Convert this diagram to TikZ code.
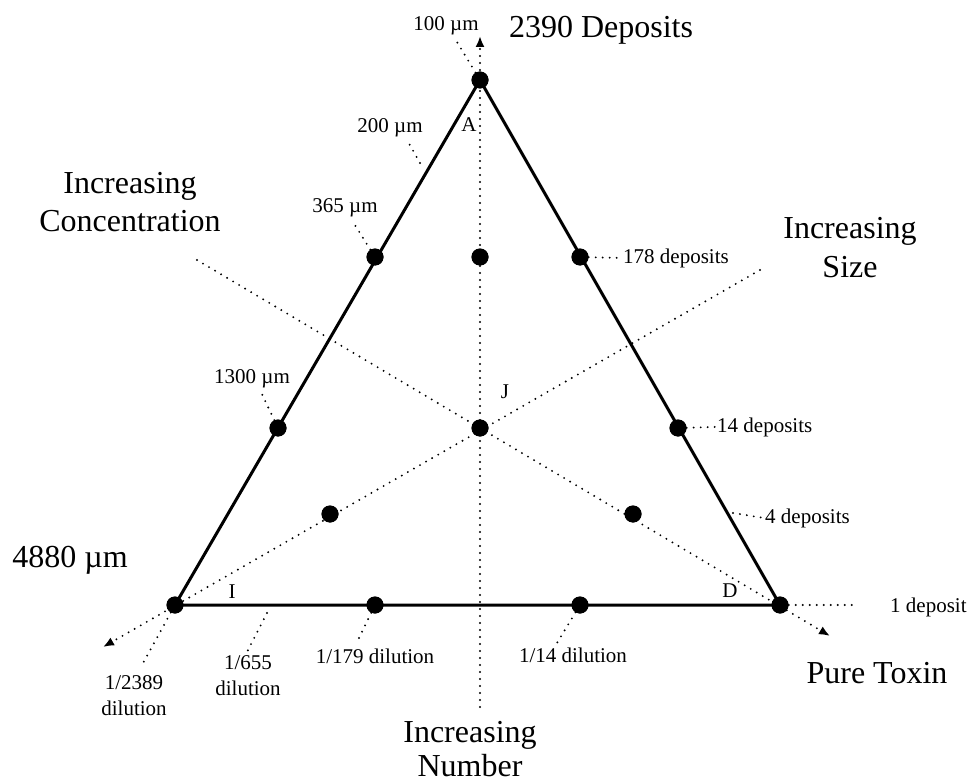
\documentclass[tikz,border=0pt]{standalone}
\usepackage{fontspec}
\setmainfont{Liberation Serif}
\usetikzlibrary{arrows.meta,positioning}
\tikzset{
    % Define standard styles
    edge/.style={
        line width=3pt, line join=round
    },
    spot/.style={
        circle, fill=black, inner sep=0pt, minimum size=17pt
    },
    guide/.style={
        line width=2.1pt, line cap=round, dash pattern=on 0pt off 7pt
    },
    tip/.style={
        -{Latex[length=11pt,width=9pt]}
    },
    biglabel/.style={
        font=\fontsize{32}{39}\selectfont, align=center, inner sep=0pt
    },
    smalllabel/.style={
        font=\fontsize{21}{26}\selectfont, align=center, inner sep=1pt
    }
}

\begin{document}
\begin{tikzpicture}[x=1pt,y=-1pt]

% Canvas
\useasboundingbox (0,0) rectangle (970,781);

% Corner and edge points
\node[spot] (pA) at (480,80) {};
\node[spot] (pI) at (175,605) {};
\node[spot] (pD) at (780,605) {};
\node[spot] (pL1) at (375,257) {};
\node[spot] (pL2) at (278,428) {};
\node[spot] (pR1) at (580,257) {};
\node[spot] (pR2) at (678,428) {};
\node[spot] (pB1) at (375,605) {};
\node[spot] (pB2) at (580,605) {};
\node[spot] (pM1) at (480,257) {};
\node[spot] (pJ) at (480,428) {};
\node[spot] (pM2) at (330,514) {};
\node[spot] (pM3) at (633,514) {};

% Axis ends
\coordinate (nb) at (480,707);
\coordinate (nt) at (480,36);
\coordinate (cs) at (197,260);
\coordinate (ce) at (830,636);
\coordinate (ss) at (760,270);
\coordinate (se) at (103,647);

% Dotted axes
\draw[guide, tip] (nb) -- (nt);
\draw[guide, tip] (cs) -- (ce);
\draw[guide, tip] (ss) -- (se);

% Triangle
\draw[edge] (pA.center) -- (pI.center) -- (pD.center) -- cycle;
\foreach \p in {pA,pI,pD,pL1,pL2,pR1,pR2,pB1,pB2,pM1,pJ,pM2,pM3}
    \fill (\p) circle (8.5pt);

% Axis titles (base = last line)
\node[biglabel, anchor=base] (tDep) at (601,38) {2390 Deposits};
\node[biglabel, anchor=base] (tConc) at (130,232) {Increasing\\Concentration};
\node[biglabel, anchor=base] (tSize) at (850,277) {Increasing\\Size};
\node[biglabel, anchor=base] (tMu) at (70,567) {4880 µm};
\node[biglabel, anchor=base] (tTox) at (877,683) {Pure Toxin};
\node[biglabel, anchor=base, font=\fontsize{32}{34}\selectfont] (tNum) at (470,776) {Increasing\\Number};

% Corner letters
\node[smalllabel, anchor=base] (lA) at (469,132) {A};
\node[smalllabel, anchor=base] (lI) at (232,598) {I};
\node[smalllabel, anchor=base] (lD) at (730,597) {D};
\node[smalllabel, anchor=base] (lJ) at (505,398) {J};

% Size labels
\node[smalllabel, anchor=base] (l100) at (446,31) {100 µm};
\node[smalllabel, anchor=base] (l200) at (390,133) {200 µm};
\node[smalllabel, anchor=base] (l365) at (345,213) {365 µm};
\node[smalllabel, anchor=base] (l1300) at (252,383) {1300 µm};

% Deposit labels
\node[smalllabel, anchor=base west] (l178) at (622,263) {178 deposits};
\node[smalllabel, anchor=base west] (l14) at (716,432) {14 deposits};
\node[smalllabel, anchor=base west] (l4) at (764,523) {4 deposits};
\node[smalllabel, anchor=base west] (l1) at (889,612) {1 deposit};

% Dilution labels
\node[smalllabel, anchor=base] (d2389) at (134,715) {1/2389\\dilution};
\node[smalllabel, anchor=base] (d655) at (248,695) {1/655\\dilution};
\node[smalllabel, anchor=base] (d179) at (375,663) {1/179 dilution};
\node[smalllabel, anchor=base] (d14) at (573,662) {1/14 dilution};

% Leader ends
\coordinate (k100) at (457,42);
\coordinate (k200a) at (420,163);
\coordinate (k200b) at (407,140);
\coordinate (k365) at (353,222);
\coordinate (k1300) at (260,390);
\coordinate (k4) at (733,513);
\coordinate (k1) at (858,605);
\coordinate (k2389) at (142,665);
\coordinate (k655a) at (267,613);
\coordinate (k655b) at (247,652);
\coordinate (k179) at (358,640);
\coordinate (k14) at (557,643);

% Leaders
\draw[guide] (pA) -- (k100);
\draw[guide] (k200a) -- (k200b);
\draw[guide] (pL1) -- (k365);
\draw[guide] (pL2) -- (k1300);
\draw[guide] (pR1) -- (l178.west);
\draw[guide] (pR2) -- (l14.west);
\draw[guide] (k4) -- (l4.west);
\draw[guide] (pD) -- (k1);
\draw[guide] (pI) -- (k2389);
\draw[guide] (k655a) -- (k655b);
\draw[guide] (pB1) -- (k179);
\draw[guide] (pB2) -- (k14);

\end{tikzpicture}
\end{document}
